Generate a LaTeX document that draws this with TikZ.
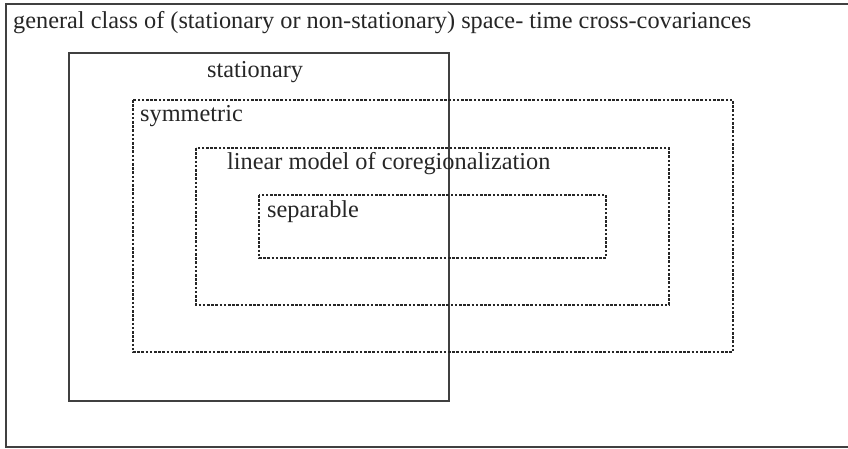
\documentclass[tikz,border=0pt]{standalone}
\usepackage{fontspec}
\setmainfont{Liberation Serif}
\begin{document}
\begin{tikzpicture}[x=1pt,y=-1pt,
  solidbox/.style={draw=black!75,line width=1.4pt},
  dotbox/.style={draw=black!85,line width=1.2pt,dash pattern=on 2.6pt off 1.6pt},
  lbl/.style={anchor=base west,inner sep=0pt,font=\fontsize{24.3}{28}\selectfont,text=black!85}]
\useasboundingbox (0,0) rectangle (848,449);
\draw[solidbox] (852,4) -- (6,4) -- (6,447) -- (852,447);
\draw[solidbox] (69,53) rectangle (449,401);
\draw[dotbox] (133,100) rectangle (733,352);
\draw[dotbox] (196,148) rectangle (669,305);
\draw[dotbox] (259,195) rectangle (606,258);
\node[lbl] (general) at (13,29) {general class of (stationary or non-stationary) space- time cross-covariances};
\node[lbl] (stat) at (207,78) {stationary};
\node[lbl] (sym) at (140,122) {symmetric};
\node[lbl] (lmc) at (227,170) {linear model of coregionalization};
\node[lbl] (sep) at (267,218) {separable};
\end{tikzpicture}
\end{document}
